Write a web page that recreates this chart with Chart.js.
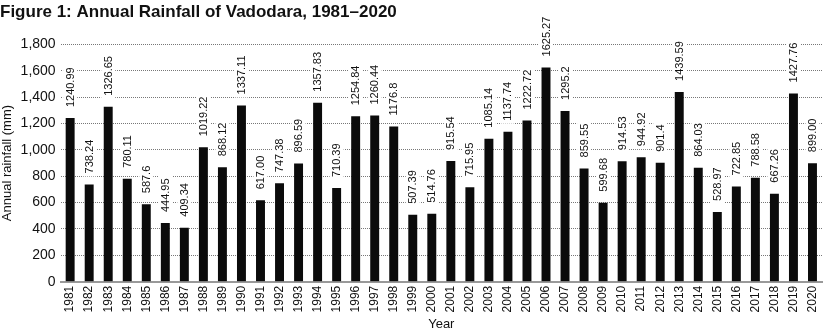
<!DOCTYPE html>
<html>
<head>
<meta charset="utf-8">
<script src="https://cdn.jsdelivr.net/npm/chart.js@4"></script>
<style>
  html, body { margin: 0; padding: 0; background: #fff; }
  #wrap { width: 832px; height: 336px; position: relative; }
</style>
</head>
<body>
<div id="wrap"><canvas id="rainChart" width="832" height="336"></canvas></div>
<script>
// Years on the x axis
var years = ['1981', '1982', '1983', '1984', '1985', '1986', '1987', '1988', '1989', '1990',
    '1991', '1992', '1993', '1994', '1995', '1996', '1997', '1998', '1999', '2000',
    '2001', '2002', '2003', '2004', '2005', '2006', '2007', '2008', '2009', '2010',
    '2011', '2012', '2013', '2014', '2015', '2016', '2017', '2018', '2019', '2020'];

// Annual rainfall in mm, as printed above each bar
var rainfallText = ['1240.99', '738.24', '1326.65', '780.11', '587.6', '444.95', '409.34', '1019.22', '868.12', '1337.11',
    '617.00', '747.38', '896.59', '1357.83', '710.39', '1254.84', '1260.44', '1176.8', '507.39', '514.76',
    '915.54', '715.95', '1085.14', '1137.74', '1222.72', '1625.27', '1295.2', '859.55', '599.68', '914.53',
    '944.92', '901.4', '1439.59', '864.03', '528.97', '722.85', '788.58', '667.26', '1427.76', '899.00'];
var rainfall = rainfallText.map(Number);

// Y axis ticks
var yMax = 1800;
var yStep = 200;

// Draws the rotated value above each bar, on a white box that cuts the grid lines
var barLabels = {
    id: 'barLabels',
    afterDatasetsDraw: function(chart) {
        var ctx = chart.ctx;
        var meta = chart.getDatasetMeta(0);
        ctx.save();
        ctx.font = '11px "Liberation Sans Narrow", "Liberation Sans", sans-serif';
        ctx.textBaseline = 'middle';
        ctx.textAlign = 'left';
        meta.data.forEach(function(bar, i) {
            var text = rainfallText[i];
            var w = ctx.measureText(text).width;
            ctx.save();
            ctx.translate(bar.x, bar.y - 11);
            ctx.rotate(-Math.PI / 2);
            ctx.fillStyle = '#fff';
            ctx.fillRect(-3, -7, w + 6, 14);
            ctx.fillStyle = '#111';
            ctx.fillText(text, 0, 0.5);
            ctx.restore();
        });
        ctx.restore();
    }
};

var ctx = document.getElementById('rainChart').getContext('2d');
var rainChart = new Chart(ctx, {
    type: 'bar',
    data: {
        labels: years,
        datasets: [{
            label: 'Annual rainfall (mm)',
            data: rainfall,
            backgroundColor: '#0b0b0b',
            borderWidth: 0,
            barPercentage: 0.47,
            categoryPercentage: 1.0
        }]
    },
    options: {
        responsive: false,
        animation: false,
        layout: { padding: { left: 0, right: 10, top: 0, bottom: 4 } },
        plugins: {
            legend: { display: false },
            tooltip: { enabled: false },
            title: {
                display: true,
                text: 'Figure 1: Annual Rainfall of Vadodara, 1981\u20132020',
                align: 'start',
                color: '#111',
                font: { family: '"Liberation Sans Narrow", "Liberation Sans", sans-serif', size: 17, weight: 'bold' },
                padding: { top: 2, bottom: 22 }
            }
        },
        scales: {
            x: {
                grid: { display: false, drawTicks: false },
                border: { display: true, color: '#999', width: 2 },
                ticks: {
                    color: '#111',
                    minRotation: 90,
                    maxRotation: 90,
                    autoSkip: false,
                    padding: 4,
                    font: { family: '"Liberation Sans", sans-serif', size: 12 }
                },
                title: {
                    display: true,
                    text: 'Year',
                    color: '#111',
                    padding: { top: 0, bottom: 0 },
                    font: { family: '"Liberation Sans", sans-serif', size: 13 }
                }
            },
            y: {
                min: 0,
                max: yMax,
                grid: {
                    color: '#777',
                    lineWidth: 1,
                    drawTicks: false
                },
                border: { display: false, dash: [1, 1] },
                ticks: {
                    stepSize: yStep,
                    color: '#111',
                    padding: 5,
                    font: { family: '"Liberation Sans", sans-serif', size: 14 },
                    callback: function(v) { return v.toLocaleString('en-US'); }
                },
                title: {
                    display: true,
                    text: 'Annual rainfall (mm)',
                    color: '#111',
                    padding: { top: 0, bottom: 0 },
                    font: { family: '"Liberation Sans", sans-serif', size: 13 }
                }
            }
        }
    },
    plugins: [barLabels]
});
</script>
</body>
</html>
